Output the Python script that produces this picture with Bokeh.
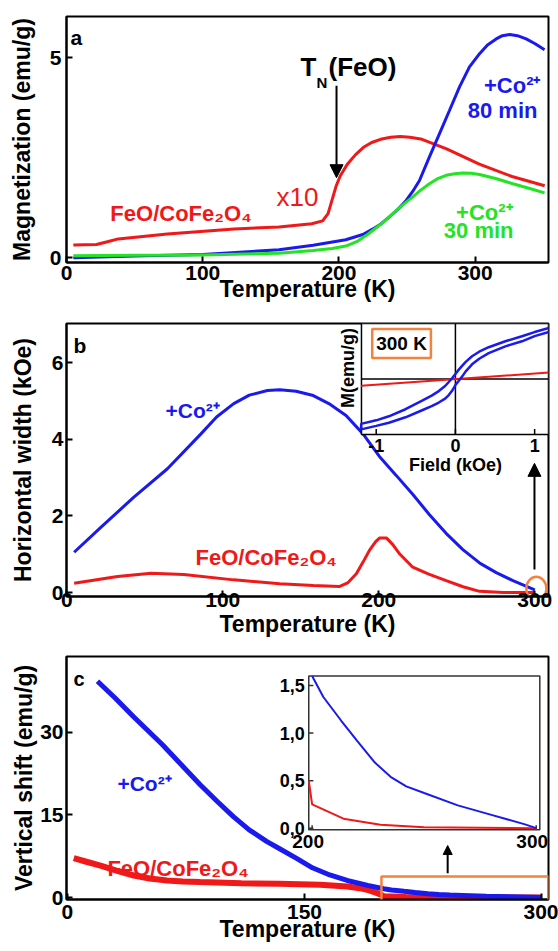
import math
from bokeh.plotting import figure
from bokeh.layouts import column
from bokeh.models import Range1d, FixedTicker, Arrow, NormalHead, BoxAnnotation, Label
from bokeh.core.properties import value
from bokeh.embed import file_html
from bokeh.resources import INLINE

FONT = "Liberation Sans"
RED = "#f01818"
BLUE = "#1a1aee"
GREEN = "#22e422"
ORANGE = "#f5823c"

# ---------------- data: panel a (Magnetization vs T) ----------------
a_red_T = [5, 22, 30, 38, 74, 123, 156, 180, 188, 192, 195, 198, 201, 206, 212, 218, 224, 230.5, 238, 245, 252, 260, 279, 303, 327, 351]
a_red_M = [0.32, 0.33, 0.40, 0.47, 0.59, 0.72, 0.77, 0.85, 0.92, 1.1, 1.45, 1.8, 2.05, 2.33, 2.57, 2.76, 2.88, 2.96, 3.01, 3.03, 3.01, 2.97, 2.72, 2.34, 2.03, 1.8]
a_blue_T = [5, 50, 100, 156, 181, 205, 217.5, 225, 231, 237, 243, 249.3, 254, 259.1, 266.4, 273.8, 281.1, 288.5, 295.8, 303.2, 309, 315.4, 320, 325.2, 331, 337.4, 344, 350.9]
a_blue_M = [0.0, 0.04, 0.08, 0.2, 0.31, 0.45, 0.58, 0.72, 0.85, 1.02, 1.2, 1.43, 1.65, 1.93, 2.52, 3.1, 3.68, 4.27, 4.77, 5.1, 5.32, 5.47, 5.55, 5.58, 5.55, 5.47, 5.35, 5.2]
a_green_T = [5, 50, 100, 156, 181, 195, 205, 213, 221, 229.7, 236, 242, 248, 254.2, 260, 266.4, 272, 278.7, 285, 290.9, 297, 303.2, 315, 327.6, 340, 350.9]
a_green_M = [0.05, 0.06, 0.07, 0.11, 0.18, 0.23, 0.29, 0.4, 0.58, 0.81, 0.99, 1.18, 1.35, 1.52, 1.69, 1.85, 1.97, 2.06, 2.1, 2.12, 2.11, 2.08, 1.98, 1.85, 1.73, 1.62]
a_xticks = [0, 100, 200, 300]
a_yticks = [0, 5]

# ---------------- data: panel b (Horizontal width vs T) ----------------
b_blue_T = [4.7, 21.8, 43, 64.5, 86, 96, 107, 117, 128.6, 136.5, 147, 158, 168, 179, 189.9, 200.4, 211.3, 222, 232.5, 243, 253.9, 265, 275.3, 286, 300]
b_blue_W = [1.05, 1.7, 2.49, 3.23, 4.14, 4.58, 4.93, 5.15, 5.27, 5.29, 5.25, 5.14, 4.93, 4.62, 4.14, 3.55, 3.05, 2.55, 2.03, 1.55, 1.12, 0.76, 0.52, 0.31, 0.07]
b_red_T = [4.7, 32.5, 54, 75, 107, 136.5, 158, 175, 180, 185.6, 190, 194, 198, 200.4, 205, 209, 213.3, 221.8, 232, 243.2, 254, 264.6, 280, 300]
b_red_W = [0.24, 0.42, 0.5, 0.47, 0.33, 0.23, 0.18, 0.16, 0.25, 0.49, 0.8, 1.1, 1.33, 1.42, 1.42, 1.25, 1.01, 0.66, 0.48, 0.31, 0.15, 0.03, 0.0, 0.0]
b_xticks = [0, 100, 200, 300]
b_yticks = [0, 2, 4, 6]

# inset b: hysteresis loops at 300 K (descending branch, then ascending branch)
loop_down_H = [1.18, 1.0, 0.84, 0.63, 0.42, 0.3, 0.21, 0.13, 0.084, 0.04, 0.0, -0.04, -0.084, -0.13, -0.21, -0.3, -0.42, -0.63, -0.84, -1.0, -1.19]
loop_down_M = [1.013, 0.93, 0.847, 0.747, 0.63, 0.54, 0.45, 0.34, 0.26, 0.18, 0.10, 0.02, -0.06, -0.14, -0.24, -0.33, -0.43, -0.6, -0.74, -0.82, -0.89]
loop_up_H = [-1.19, -1.0, -0.84, -0.63, -0.42, -0.3, -0.21, -0.13, -0.084, -0.04, 0.0, 0.04, 0.084, 0.13, 0.21, 0.3, 0.42, 0.63, 0.84, 1.0, 1.18]
loop_up_M = [-1.0, -0.93, -0.867, -0.76, -0.62, -0.54, -0.467, -0.39, -0.32, -0.23, -0.12, -0.04, 0.047, 0.15, 0.29, 0.4, 0.513, 0.647, 0.747, 0.85, 0.933]
red_loop_H = [-1.19, 1.18]
red_loop_M = [-0.133, 0.127]
ib_xticks = [-1, 0, 1]
ib_xlabels = ["-1", "0", "1"]

# ---------------- data: panel c (Vertical shift vs T) ----------------
c_blue_T = [19, 30, 42, 60, 84, 95, 105, 115, 126, 134, 145, 155, 166, 177, 190, 200, 205, 213, 220, 228, 235, 242, 250, 265, 280, 295, 300]
c_blue_S = [39.3, 36.3, 32.8, 27.8, 20.5, 17.4, 14.7, 12.3, 10.2, 8.9, 7.1, 5.4, 4.1, 3.1, 2.2, 1.6, 1.38, 1.13, 0.92, 0.69, 0.54, 0.44, 0.37, 0.24, 0.14, 0.04, 0.0]
c_red_T = [4, 12, 20.9, 31, 42, 52, 63, 73, 84, 110, 134, 160, 177, 185, 191, 196, 198.5, 200, 214, 230.5, 250, 275, 300]
c_red_S = [7.15, 6.5, 5.8, 4.9, 4.0, 3.45, 3.1, 2.92, 2.8, 2.6, 2.5, 2.3, 2.0, 1.7, 1.3, 0.8, 0.5, 0.25, 0.1, 0.035, 0.01, 0.005, 0.0]
c_xticks = [0, 150, 300]
c_yticks = [0, 15, 30]
ic_xticks = [200, 300]
ic_xlabels = ["200", "300"]
ic_yticks = [0.0, 0.5, 1.0, 1.5]
ic_ylabels = ["0,0", "0,5", "1,0", "1,5"]


def make_fig(height, xr, yr, top, bottom):
    p = figure(width=558, height=height, x_range=Range1d(*xr), y_range=Range1d(*yr),
               output_backend="svg", toolbar_location=None,
               min_border_left=66, min_border_right=10,
               min_border_top=top, min_border_bottom=bottom,
               background_fill_color="white", border_fill_color="white")
    p.grid.visible = False
    p.outline_line_color = "black"
    p.outline_line_width = 2
    return p


def style_axes(p, xticks, yticks, xlabel, ylabel, xs1, xs2, ys1, ys2):
    xa = p.below[0]
    ya = p.left[0]
    xa.ticker = FixedTicker(ticks=xticks)
    ya.ticker = FixedTicker(ticks=yticks)
    xa.axis_label = xlabel
    ya.axis_label = ylabel
    xa.major_label_standoff = xs1
    xa.axis_label_standoff = xs2
    ya.major_label_standoff = ys1
    ya.axis_label_standoff = ys2
    for ax in (xa, ya):
        ax.axis_line_width = 2
        ax.axis_line_color = "black"
        ax.major_tick_in = 6
        ax.major_tick_out = 0
        ax.major_tick_line_width = 2
        ax.major_tick_line_color = "black"
        ax.minor_tick_line_color = None
        ax.major_label_text_font = FONT
        ax.major_label_text_font_style = "bold"
        ax.major_label_text_font_size = "21px"
        ax.major_label_text_color = "black"
        ax.axis_label_text_font = FONT
        ax.axis_label_text_font_style = "bold"
        ax.axis_label_text_font_size = "23px"
        ax.axis_label_text_color = "black"


def txt(g, x, y, s, color, size, bold=True, align="left", baseline="alphabetic", **kw):
    g.text(x=[x], y=[y], text=[s], text_color=color, text_font=value(FONT),
           text_font_size=value(size), text_font_style="bold" if bold else "normal",
           text_align=align, text_baseline=baseline, **kw)


# ================= panel a =================
pa = make_fig(311, (0, 353.8), (-0.12, 6.03), 16, 49)
style_axes(pa, a_xticks, a_yticks, "Temperature (K)", "Magnetization (emu/g)", 3, -7, 5, 12)
pa.line(a_red_T, a_red_M, line_color=RED, line_width=3)
pa.line(a_blue_T, a_blue_M, line_color=BLUE, line_width=3)
pa.line(a_green_T, a_green_M, line_color=GREEN, line_width=3)
txt(pa, 2.9, 5.51, "a", "black", "21px")
txt(pa, 171.7, 4.76, "T", "black", "26px")
txt(pa, 183.5, 4.38, "N", "black", "15px")
txt(pa, 192.3, 4.76, "(FeO)", "black", "26px")
txt(pa, 154.1, 1.51, "x10", RED, "26px", bold=False)
txt(pa, 32.2, 1.11, "FeO/CoFe\u2082O\u2084", RED, "22px")
txt(pa, 347.9, 4.31, "+Co\u00b2\u207a", BLUE, "22px", align="right")
txt(pa, 345.7, 3.68, "80 min", BLUE, "22px", align="right")
txt(pa, 327.4, 1.13, "+Co\u00b2\u207a", GREEN, "22px", align="right")
txt(pa, 328.1, 0.68, "30 min", GREEN, "22px", align="right")
TN_X, TN_TOP, TN_TIP = 198.2, 4.3, 2.0
pa.add_layout(Arrow(x_start=TN_X, y_start=TN_TOP, x_end=TN_X, y_end=TN_TIP,
                    line_width=2, line_color="black",
                    end=NormalHead(size=13, fill_color="black", line_color="black")))

# ================= panel b =================
pb = make_fig(335, (-0.2, 308.8), (-0.104, 7.02), 12, 50)
style_axes(pb, b_xticks, b_yticks, "Temperature (K)", "Horizontal width (kOe)", -4, 1, 3, 13)
pb.line(b_blue_T, b_blue_W, line_color=BLUE, line_width=3)
pb.line(b_red_T, b_red_W, line_color=RED, line_width=3)
txt(pb, 4.3, 6.45, "b", "black", "21px")
txt(pb, 63.3, 4.75, "+Co\u00b2\u207a", BLUE, "21px")
txt(pb, 82.5, 0.92, "FeO/CoFe\u2082O\u2084", RED, "22px")
pb.ellipse(x=[301], y=[0.1], width=20, height=24, width_units="screen", height_units="screen",
           fill_color=None, line_color=ORANGE, line_width=2.5)
pb.add_layout(Arrow(x_start=299.8, y_start=0.6, x_end=299.8, y_end=3.37,
                    line_width=2, line_color="black",
                    end=NormalHead(size=13, fill_color="black", line_color="black")))

# inset b
ib_xs = Range1d(-1.186, 1.175)
ib_ys = Range1d(-1.1, 1.1)
ib = pb.subplot(x_source=ib_xs, y_source=ib_ys,
                x_target=Range1d(188.9, 308.8), y_target=Range1d(4.125, 7.02))
ib.quad(left=[ib_xs.start], right=[ib_xs.end], bottom=[ib_ys.start], top=[ib_ys.end],
        fill_color="white", line_color="black", line_width=1.5)
ib.segment(x0=[0, ib_xs.start], y0=[ib_ys.start, 0], x1=[0, ib_xs.end], y1=[ib_ys.end, 0],
           line_color="black", line_width=1.5)
tl = 0.05 * (ib_ys.end - ib_ys.start)
ib.segment(x0=ib_xticks, y0=[ib_ys.start] * 3, x1=ib_xticks, y1=[ib_ys.start + tl] * 3,
           line_color="black", line_width=1.5)
ib.line(red_loop_H, red_loop_M, line_color=RED, line_width=2)
ib.line(loop_down_H + loop_up_H, loop_down_M + loop_up_M, line_color=BLUE, line_width=2.5)
ib.text(x=ib_xticks, y=[ib_ys.start] * 3, text=ib_xlabels, y_offset=5,
        text_font=value(FONT), text_font_style="bold", text_font_size=value("18px"),
        text_align="center", text_baseline="top", text_color="black")
txt(ib, 0, ib_ys.start, "Field (kOe)", "black", "18px", align="center", baseline="top", y_offset=21)
txt(ib, ib_xs.start, 0, "M(emu/g)", "black", "18px", align="center", baseline="middle",
    angle=math.pi / 2, x_offset=-13, y_offset=-11)
pb.add_layout(Label(x=214.6, y=6.5, text="300 K", text_font=FONT, text_font_style="bold",
                    text_font_size="19px", text_color="black", text_align="center",
                    text_baseline="middle", border_line_color=ORANGE, border_line_width=2.5,
                    background_fill_color="white", padding=4))

# ================= panel c =================
pc = make_fig(305, (-0.6, 304.4), (-0.36, 43.8), 10, 52)
style_axes(pc, c_xticks, c_yticks, "Temperature (K)", "Vertical shift (emu/g)", 5, -6, 3, 0)
pc.line(c_red_T, c_red_S, line_color=RED, line_width=6)
pc.line(c_blue_T, c_blue_S, line_color=BLUE, line_width=5)
txt(pc, 3.8, 39.8, "c", "black", "20px")
txt(pc, 31.6, 20.7, "+Co\u00b2\u207a", BLUE, "21px")
txt(pc, 25.3, 5.3, "FeO/CoFe\u2082O\u2084", RED, "22px")
pc.add_layout(BoxAnnotation(left=198.7, right=304.4, bottom=-1.45, top=3.8, fill_color=None,
                            line_color=ORANGE, line_width=2.5, line_alpha=1))
pc.add_layout(Arrow(x_start=240.6, y_start=4.4, x_end=240.6, y_end=9.45,
                    line_width=2, line_color="black",
                    end=NormalHead(size=9, fill_color="black", line_color="black")))

# inset c
ic_xs = Range1d(198.5, 301.6)
ic_ys = Range1d(-0.017, 1.6)
ic = pc.subplot(x_source=ic_xs, y_source=ic_ys,
                x_target=Range1d(152.7, 298.9), y_target=Range1d(12.31, 40.24))
ic.quad(left=[ic_xs.start], right=[ic_xs.end], bottom=[ic_ys.start], top=[ic_ys.end],
        fill_color="white", line_color="#333333", line_width=1.5)
ytl = 0.02 * (ic_xs.end - ic_xs.start)
xtl = 0.03 * (ic_ys.end - ic_ys.start)
ic.segment(x0=[ic_xs.start] * 4, y0=ic_yticks, x1=[ic_xs.start + ytl] * 4, y1=ic_yticks,
           line_color="#333333", line_width=1.5)
ic.segment(x0=ic_xticks, y0=[ic_ys.start] * 2, x1=ic_xticks, y1=[ic_ys.start + xtl] * 2,
           line_color="#333333", line_width=1.5)
ic_red_T = [t for t in c_red_T if t >= ic_xs.start]
ic_red_S = [s for t, s in zip(c_red_T, c_red_S) if t >= ic_xs.start]
ic_blue_T = [t for t in c_blue_T if t >= 200]
ic_blue_S = [s for t, s in zip(c_blue_T, c_blue_S) if t >= 200]
ic.line(ic_red_T, ic_red_S, line_color=RED, line_width=2)
ic.line(ic_blue_T, ic_blue_S, line_color=BLUE, line_width=2)
ic.text(x=[ic_xs.start] * 4, y=ic_yticks, text=ic_ylabels, x_offset=-4,
        text_font=value(FONT), text_font_style="bold", text_font_size=value("18px"),
        text_align="right", text_baseline="middle", text_color="black")
ic.text(x=ic_xticks, y=[ic_ys.start] * 2, text=ic_xlabels, y_offset=5, x_offset=-4,
        text_font=value(FONT), text_font_style="bold", text_font_size=value("19px"),
        text_align="center", text_baseline="top", text_color="black")

layout = column(pa, pb, pc, spacing=0)
open("out.html", "w").write(file_html(layout, INLINE, title="FeO/CoFe2O4 magnetization"))
